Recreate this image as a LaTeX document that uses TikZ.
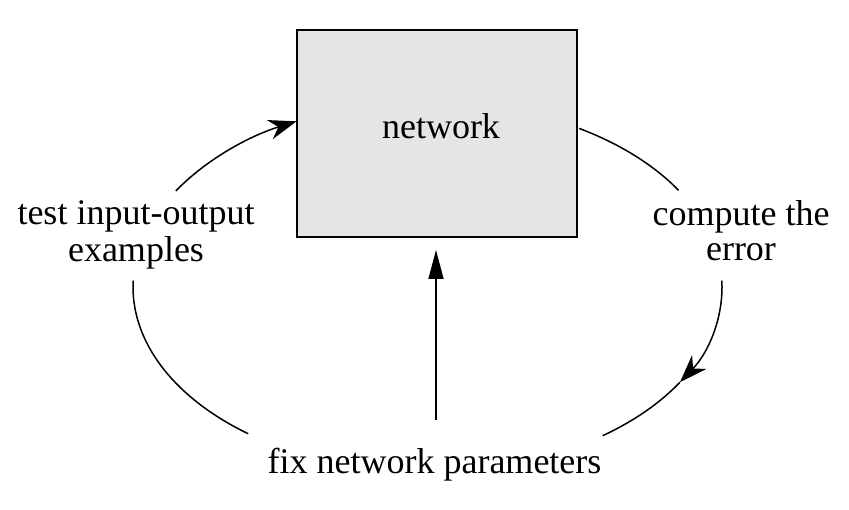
\documentclass[tikz,border=0pt]{standalone}
\usepackage{fontspec}
\setmainfont{Liberation Serif}
\usetikzlibrary{arrows.meta,calc}
\begin{document}
\begin{tikzpicture}[x=1pt,y=1pt,
  lbl/.style={inner sep=0pt, align=center, font=\fontsize{36}{35}\selectfont},
  netbox/.style={draw, line width=2pt, fill=black!10, minimum width=280pt, minimum height=207pt, inner sep=0pt},
  loopline/.style={line width=1.5pt},
  curvetip/.style={-{Stealth[length=28pt,width=20pt,inset=9pt]}},
  uptip/.style={-{Triangle[length=29pt,width=15pt]}}]
\useasboundingbox (0,0) rectangle (849,510);
\node[netbox] (net) at (437,376.5) {};
\node[lbl] (netlbl) at (441,384) {network};
\node[lbl] (test) at (136,274) {\strut test input-output\\examples\strut};
\node[lbl] (err) at (741,274) {\strut compute the\\error\strut};
\node[lbl] (fix) at (434.5,45) {fix network parameters};
\coordinate (c) at (427.5,223);
% right side
\coordinate (rA) at ($(c)+(59:294.5pt and 185pt)$);
\coordinate (rB) at ($(c)+(2:294.5pt and 185pt)$);
\coordinate (rM) at ($(c)+(-31:294.5pt and 185pt)$);
\draw[loopline] (rA) arc[start angle=59,end angle=31.5,x radius=294.5pt,y radius=185pt];
\draw[loopline,curvetip] (rB) arc[start angle=2,end angle=-31,x radius=294.5pt,y radius=185pt];
\draw[loopline] (rM) arc[start angle=-31,end angle=-53.5,x radius=294.5pt,y radius=185pt];
% left side
\coordinate (lA) at ($(c)+(232.5:294.5pt and 185pt)$);
\coordinate (lB) at ($(c)+(148.7:294.5pt and 185pt)$);
\draw[loopline] (lA) arc[start angle=232.5,end angle=178,x radius=294.5pt,y radius=185pt];
\draw[loopline,curvetip] (lB) arc[start angle=148.7,end angle=116.4,x radius=294.5pt,y radius=185pt];
% vertical
\coordinate (up) at (436,90);
\coordinate (upend) at ($(up |- net.south)+(0,-12)$);
\draw[loopline,uptip] (up) -- (upend);
\end{tikzpicture}
\end{document}
